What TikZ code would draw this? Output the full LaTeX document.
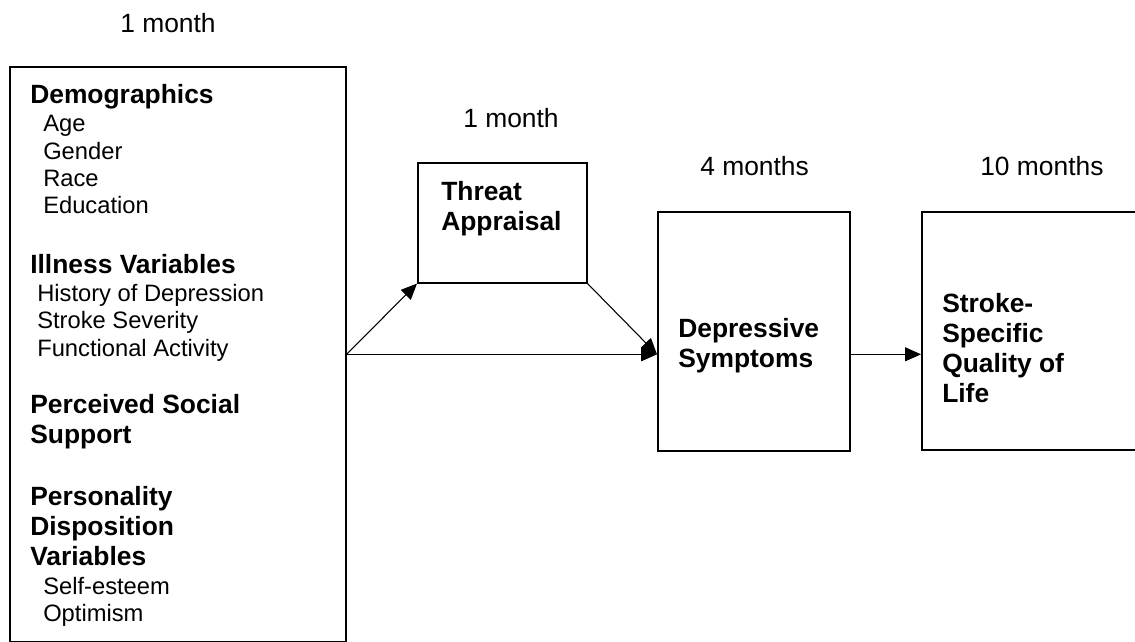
\documentclass[tikz,border=0pt]{standalone}
\usepackage{fontspec}
\setmainfont{Liberation Sans}
\usetikzlibrary{arrows.meta,positioning}
\tikzstyle{box}   = [draw, line width=1.2pt, inner sep=0pt, anchor=north west]
\tikzstyle{head}  = [font=\fontsize{19.8}{22.5}\selectfont\bfseries, align=left, anchor=north west, inner sep=0pt]
\tikzstyle{item}  = [font=\fontsize{17.8}{20.6}\selectfont, align=left, anchor=north west, inner sep=0pt]
\tikzstyle{when}  = [font=\fontsize{19.8}{22.5}\selectfont, anchor=north west, inner sep=0pt]
\tikzstyle{arrow} = [line width=0.8pt, -{Triangle[length=12pt,width=10.5pt]}]

\begin{document}
\begin{tikzpicture}[x=0.75pt,y=-0.75pt]
	\clip (0,0) rectangle (1135,642);

	% boxes
	\node[box, minimum width=252pt, minimum height=431.25pt] (demo) at (9,66) {};
	\node[box, minimum width=126.75pt, minimum height=90pt] (threat) at (417,162) {};
	\node[box, minimum width=144pt, minimum height=179.25pt] (depr) at (657,211) {};
	\node[box, minimum width=172.5pt, minimum height=178.5pt] (qol) at (921,211) {};

	% time points
	\node[when] (t1) at (120,13) {1 month};
	\node[when] (t2) at (463,108) {1 month};
	\node[when] (t3) at (700,156) {4 months};
	\node[when] (t4) at (980,156) {10 months};

	% predictors
	\node[head] (dem) at (30,84) {Demographics};
	\node[item] (demitems) at (43,115) {Age\\Gender\\Race\\Education};
	\node[head] (ill) at (30,254) {Illness Variables};
	\node[item] (illitems) at (37,284) {History of Depression\\Stroke Severity\\Functional Activity};
	\node[head] (soc) at (30,394) {Perceived Social\\Support};
	\node[head] (pers) at (30,486) {Personality\\Disposition\\Variables};
	\node[item] (persitems) at (43,577) {Self-esteem\\Optimism};

	% outcomes
	\node[head] (threattxt) at (441,181) {Threat\\Appraisal};
	\node[head] (deprtxt) at (678,318) {Depressive\\Symptoms};
	\node[head] (qoltxt) at (942,293) {Stroke-\\Specific\\Quality of\\Life};

	% paths
	\coordinate (hit) at (demo.east -| depr.west);
	\draw[arrow] (demo.east) -- (threat.south west);
	\draw[arrow] (demo.east) -- (hit);
	\draw[arrow] (threat.south east) -- (hit);
	\draw[arrow] (depr.east |- hit) -- (qol.west |- hit);
\end{tikzpicture}
\end{document}
